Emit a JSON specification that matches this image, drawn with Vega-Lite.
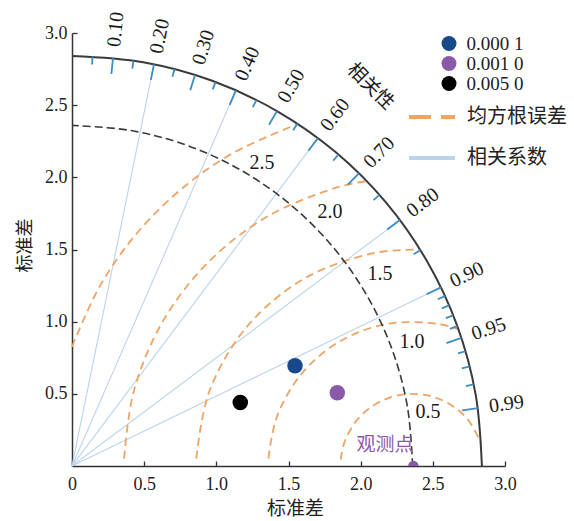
{
  "$schema": "https://vega.github.io/schema/vega-lite/v6.json",
  "width": 433,
  "height": 433,
  "autosize": {"type": "none"},
  "padding": {"left": 72, "top": 33, "right": 69, "bottom": 55},
  "background": "white",
  "config": {
    "view": {"stroke": null},
    "font": "Liberation Serif",
    "axis": {
      "grid": false,
      "domainColor": "#333333",
      "domainWidth": 1.5,
      "tickColor": "#333333",
      "tickWidth": 1.3,
      "tickSize": -5,
      "labelFont": "Liberation Serif",
      "labelFontSize": 18,
      "labelColor": "#222222",
      "labelFlush": false,
      "labelOverlap": false,
      "titleFont": "Noto Sans CJK SC",
      "titleFontWeight": "normal",
      "titleColor": "#222222"
    }
  },
  "datasets": {
    "outer": [
      {"i": 0, "x": 2.84, "y": 0}, {"i": 1, "x": 2.797, "y": 0.493}, {"i": 2, "x": 2.669, "y": 0.971},
      {"i": 3, "x": 2.459, "y": 1.42}, {"i": 4, "x": 2.175, "y": 1.826}, {"i": 5, "x": 1.826, "y": 2.175},
      {"i": 6, "x": 1.42, "y": 2.459}, {"i": 7, "x": 0.971, "y": 2.669}, {"i": 8, "x": 0.493, "y": 2.797},
      {"i": 9, "x": 0, "y": 2.84}
    ],
    "std": [
      {"i": 0, "x": 2.36, "y": 0}, {"i": 1, "x": 2.324, "y": 0.41}, {"i": 2, "x": 2.218, "y": 0.807},
      {"i": 3, "x": 2.044, "y": 1.18}, {"i": 4, "x": 1.808, "y": 1.517}, {"i": 5, "x": 1.517, "y": 1.808},
      {"i": 6, "x": 1.18, "y": 2.044}, {"i": 7, "x": 0.807, "y": 2.218}, {"i": 8, "x": 0.41, "y": 2.324},
      {"i": 9, "x": 0, "y": 2.36}
    ],
    "rms": [
      {"rho": 0.5, "kind": "均方根误差", "i": 0, "x": 1.862, "y": 0.044},
      {"rho": 0.5, "kind": "均方根误差", "i": 1, "x": 1.89, "y": 0.171},
      {"rho": 0.5, "kind": "均方根误差", "i": 2, "x": 1.977, "y": 0.321},
      {"rho": 0.5, "kind": "均方根误差", "i": 3, "x": 2.11, "y": 0.433},
      {"rho": 0.5, "kind": "均方根误差", "i": 4, "x": 2.273, "y": 0.492},
      {"rho": 0.5, "kind": "均方根误差", "i": 5, "x": 2.447, "y": 0.492},
      {"rho": 0.5, "kind": "均方根误差", "i": 6, "x": 2.61, "y": 0.433},
      {"rho": 0.5, "kind": "均方根误差", "i": 7, "x": 2.743, "y": 0.321},
      {"rho": 0.5, "kind": "均方根误差", "i": 8, "x": 2.836, "y": 0.155},
      {"rho": 1.0, "kind": "均方根误差", "i": 0, "x": 1.361, "y": 0.052},
      {"rho": 1.0, "kind": "均方根误差", "i": 1, "x": 1.42, "y": 0.342},
      {"rho": 1.0, "kind": "均方根误差", "i": 2, "x": 1.594, "y": 0.643},
      {"rho": 1.0, "kind": "均方根误差", "i": 3, "x": 1.86, "y": 0.866},
      {"rho": 1.0, "kind": "均方根误差", "i": 4, "x": 2.186, "y": 0.985},
      {"rho": 1.0, "kind": "均方根误差", "i": 5, "x": 2.534, "y": 0.985},
      {"rho": 1.0, "kind": "均方根误差", "i": 6, "x": 2.677, "y": 0.948},
      {"rho": 1.5, "kind": "均方根误差", "i": 0, "x": 0.861, "y": 0.052},
      {"rho": 1.5, "kind": "均方根误差", "i": 1, "x": 0.95, "y": 0.513},
      {"rho": 1.5, "kind": "均方根误差", "i": 2, "x": 1.211, "y": 0.964},
      {"rho": 1.5, "kind": "均方根误差", "i": 3, "x": 1.61, "y": 1.299},
      {"rho": 1.5, "kind": "均方根误差", "i": 4, "x": 2.1, "y": 1.477},
      {"rho": 1.5, "kind": "均方根误差", "i": 5, "x": 2.412, "y": 1.499},
      {"rho": 2.0, "kind": "均方根误差", "i": 0, "x": 0.361, "y": 0.052},
      {"rho": 2.0, "kind": "均方根误差", "i": 1, "x": 0.428, "y": 0.518},
      {"rho": 2.0, "kind": "均方根误差", "i": 2, "x": 0.628, "y": 1.0},
      {"rho": 2.0, "kind": "均方根误差", "i": 3, "x": 0.946, "y": 1.414},
      {"rho": 2.0, "kind": "均方根误差", "i": 4, "x": 1.36, "y": 1.732},
      {"rho": 2.0, "kind": "均方根误差", "i": 5, "x": 1.842, "y": 1.932},
      {"rho": 2.0, "kind": "均方根误差", "i": 6, "x": 2.04, "y": 1.974},
      {"rho": 2.5, "kind": "均方根误差", "i": 0, "x": 0.0, "y": 0.826},
      {"rho": 2.5, "kind": "均方根误差", "i": 1, "x": 0.195, "y": 1.25},
      {"rho": 2.5, "kind": "均方根误差", "i": 2, "x": 0.445, "y": 1.607},
      {"rho": 2.5, "kind": "均方根误差", "i": 3, "x": 0.753, "y": 1.915},
      {"rho": 2.5, "kind": "均方根误差", "i": 4, "x": 1.11, "y": 2.165},
      {"rho": 2.5, "kind": "均方根误差", "i": 5, "x": 1.567, "y": 2.371}
    ],
    "corr": [
      {"c": 0.2, "kind": "相关系数", "x": 0, "y": 0, "x2": 0.568, "y2": 2.783},
      {"c": 0.4, "kind": "相关系数", "x": 0, "y": 0, "x2": 1.136, "y2": 2.603},
      {"c": 0.6, "kind": "相关系数", "x": 0, "y": 0, "x2": 1.704, "y2": 2.272},
      {"c": 0.8, "kind": "相关系数", "x": 0, "y": 0, "x2": 2.272, "y2": 1.704},
      {"c": 0.9, "kind": "相关系数", "x": 0, "y": 0, "x2": 2.556, "y2": 1.238}
    ],
    "ticks": [
      {"c": 0.05, "x": 0.142, "y": 2.836, "x2": 0.139, "y2": 2.782},
      {"c": 0.10, "x": 0.284, "y": 2.826, "x2": 0.273, "y2": 2.716},
      {"c": 0.15, "x": 0.426, "y": 2.808, "x2": 0.418, "y2": 2.753},
      {"c": 0.20, "x": 0.568, "y": 2.783, "x2": 0.546, "y2": 2.675},
      {"c": 0.25, "x": 0.71, "y": 2.75, "x2": 0.696, "y2": 2.697},
      {"c": 0.30, "x": 0.852, "y": 2.709, "x2": 0.819, "y2": 2.604},
      {"c": 0.35, "x": 0.994, "y": 2.66, "x2": 0.975, "y2": 2.609},
      {"c": 0.40, "x": 1.136, "y": 2.603, "x2": 1.092, "y2": 2.502},
      {"c": 0.45, "x": 1.278, "y": 2.536, "x2": 1.253, "y2": 2.487},
      {"c": 0.50, "x": 1.42, "y": 2.459, "x2": 1.365, "y2": 2.364},
      {"c": 0.55, "x": 1.562, "y": 2.372, "x2": 1.532, "y2": 2.326},
      {"c": 0.60, "x": 1.704, "y": 2.272, "x2": 1.638, "y2": 2.184},
      {"c": 0.65, "x": 1.846, "y": 2.158, "x2": 1.81, "y2": 2.116},
      {"c": 0.70, "x": 1.988, "y": 2.028, "x2": 1.911, "y2": 1.95},
      {"c": 0.75, "x": 2.13, "y": 1.878, "x2": 2.089, "y2": 1.842},
      {"c": 0.80, "x": 2.272, "y": 1.704, "x2": 2.184, "y2": 1.638},
      {"c": 0.85, "x": 2.414, "y": 1.496, "x2": 2.367, "y2": 1.467},
      {"c": 0.90, "x": 2.556, "y": 1.238, "x2": 2.457, "y2": 1.19},
      {"c": 0.91, "x": 2.584, "y": 1.177, "x2": 2.534, "y2": 1.155},
      {"c": 0.92, "x": 2.613, "y": 1.113, "x2": 2.562, "y2": 1.092},
      {"c": 0.93, "x": 2.641, "y": 1.044, "x2": 2.59, "y2": 1.024},
      {"c": 0.94, "x": 2.67, "y": 0.969, "x2": 2.618, "y2": 0.95},
      {"c": 0.95, "x": 2.698, "y": 0.887, "x2": 2.594, "y2": 0.852},
      {"c": 0.96, "x": 2.726, "y": 0.795, "x2": 2.674, "y2": 0.78},
      {"c": 0.97, "x": 2.755, "y": 0.69, "x2": 2.701, "y2": 0.677},
      {"c": 0.98, "x": 2.783, "y": 0.565, "x2": 2.729, "y2": 0.554},
      {"c": 0.99, "x": 2.812, "y": 0.401, "x2": 2.703, "y2": 0.385}
    ],
    "ticklabels": [
      {"t": "0.10", "x": 0.304, "y": 3.025, "deg": 84.26},
      {"t": "0.20", "x": 0.608, "y": 2.979, "deg": 78.46},
      {"t": "0.30", "x": 0.912, "y": 2.9, "deg": 72.54},
      {"t": "0.40", "x": 1.216, "y": 2.786, "deg": 66.42},
      {"t": "0.50", "x": 1.52, "y": 2.633, "deg": 60},
      {"t": "0.60", "x": 1.824, "y": 2.432, "deg": 53.13},
      {"t": "0.70", "x": 2.128, "y": 2.171, "deg": 45.57},
      {"t": "0.80", "x": 2.432, "y": 1.824, "deg": 36.87},
      {"t": "0.90", "x": 2.736, "y": 1.325, "deg": 25.84},
      {"t": "0.95", "x": 2.888, "y": 0.949, "deg": 18.19},
      {"t": "0.99", "x": 3.01, "y": 0.429, "deg": 8.11}
    ],
    "rmslabels": [
      {"t": "2.5", "x": 1.317, "y": 2.1},
      {"t": "2.0", "x": 1.788, "y": 1.76},
      {"t": "1.5", "x": 2.134, "y": 1.33},
      {"t": "1.0", "x": 2.356, "y": 0.859},
      {"t": "0.5", "x": 2.467, "y": 0.374}
    ],
    "models": [
      {"label": "0.000 1", "x": 1.545, "y": 0.694},
      {"label": "0.001 0", "x": 1.838, "y": 0.508},
      {"label": "0.005 0", "x": 1.166, "y": 0.44}
    ],
    "obs": [
      {"name": "观测点", "x": 2.365, "y": 0, "lx": 2.169, "ly": 0.145}
    ],
    "corrtitle": [
      {"t": "相关性", "x": 2.07, "y": 2.63}
    ]
  },
  "encoding": {
    "x": {
      "field": "x", "type": "quantitative",
      "scale": {"domain": [0, 3], "nice": false, "zero": true},
      "axis": {
        "values": [0, 0.5, 1, 1.5, 2, 2.5, 3],
        "labelExpr": "datum.value == 0 ? '0' : format(datum.value, '.1f')",
        "labelPadding": 14,
        "title": "标准差",
        "titleFontSize": 19,
        "titleX": 223,
        "titleY": 33,
        "titleAlign": "center",
        "titleBaseline": "top"
      }
    },
    "y": {
      "field": "y", "type": "quantitative",
      "scale": {"domain": [0, 3], "nice": false, "zero": true},
      "axis": {
        "values": [0.5, 1, 1.5, 2, 2.5, 3],
        "format": ".1f",
        "labelPadding": 10,
        "title": "标准差",
        "titleFontSize": 18,
        "titleX": -47,
        "titleY": 212,
        "titleAlign": "center",
        "titleBaseline": "middle",
        "titleAngle": -90
      }
    }
  },
  "layer": [
    {
      "data": {"name": "corr"},
      "mark": {"type": "rule", "strokeWidth": 1.1, "strokeDash": [1, 0]},
      "encoding": {
        "x2": {"field": "x2"},
        "y2": {"field": "y2"},
        "stroke": {
          "field": "kind", "type": "nominal",
          "scale": {"domain": ["均方根误差", "相关系数"], "range": ["#eea466", "#bcd3ea"]},
          "legend": {
            "orient": "none", "legendX": 335, "legendY": 59, "title": null,
            "symbolType": "stroke", "symbolSize": 2116, "symbolStrokeWidth": 4,
            "labelFont": "Noto Sans CJK SC", "labelFontSize": 20, "labelColor": "#222222",
            "labelOffset": 10, "rowPadding": 6, "padding": 0,
            "encode": {"symbols": {"update": {
              "strokeDash": {"signal": "datum.value === '均方根误差' ? [22, 10] : [1, 0]"},
              "stroke": {"signal": "datum.value === '均方根误差' ? '#dca37c' : '#c2cad8'"}
            }}}
          }
        }
      }
    },
    {
      "data": {"name": "rms"},
      "mark": {"type": "line", "strokeWidth": 1.8, "interpolate": "catmull-rom", "strokeDash": [8, 5]},
      "encoding": {
        "order": {"field": "i", "type": "quantitative"},
        "detail": {"field": "rho", "type": "nominal"},
        "stroke": {
          "field": "kind", "type": "nominal",
          "legend": {
            "orient": "none", "legendX": 335, "legendY": 59, "title": null,
            "symbolType": "stroke", "symbolSize": 2116, "symbolStrokeWidth": 4,
            "labelFont": "Noto Sans CJK SC", "labelFontSize": 20, "labelColor": "#222222",
            "labelOffset": 10, "rowPadding": 6, "padding": 0,
            "encode": {"symbols": {"update": {
              "strokeDash": {"signal": "datum.value === '均方根误差' ? [22, 10] : [1, 0]"},
              "stroke": {"signal": "datum.value === '均方根误差' ? '#dca37c' : '#c2cad8'"}
            }}}
          }
        }
      }
    },
    {
      "data": {"name": "std"},
      "mark": {"type": "line", "stroke": "#3a3a3a", "strokeWidth": 1.6, "strokeDash": [8, 4], "interpolate": "catmull-rom"},
      "encoding": {"order": {"field": "i", "type": "quantitative"}}
    },
    {
      "data": {"name": "outer"},
      "mark": {"type": "line", "stroke": "#3a3a3a", "strokeWidth": 2, "interpolate": "catmull-rom"},
      "encoding": {"order": {"field": "i", "type": "quantitative"}}
    },
    {
      "data": {"name": "ticks"},
      "mark": {"type": "rule", "stroke": "#3a8dc5", "strokeWidth": 1.8},
      "encoding": {"x2": {"field": "x2"}, "y2": {"field": "y2"}}
    },
    {
      "data": {"name": "ticklabels"},
      "mark": {"type": "text", "font": "Liberation Serif", "fontSize": 20, "color": "#1a1a1a", "align": "center", "baseline": "middle"},
      "encoding": {
        "text": {"field": "t"},
        "angle": {"field": "deg", "type": "quantitative", "scale": {"domain": [0, 90], "range": [360, 270]}, "legend": null}
      }
    },
    {
      "data": {"name": "rmslabels"},
      "mark": {"type": "text", "font": "Liberation Serif", "fontSize": 20, "color": "#1a1a1a", "align": "center", "baseline": "middle"},
      "encoding": {"text": {"field": "t"}}
    },
    {
      "data": {"name": "corrtitle"},
      "mark": {"type": "text", "font": "Noto Sans CJK SC", "fontSize": 19, "color": "#1a1a1a", "align": "center", "baseline": "middle", "angle": 45},
      "encoding": {"text": {"field": "t"}}
    },
    {
      "data": {"name": "obs"},
      "mark": {"type": "point", "filled": true, "size": 110, "color": "#8a5aa8", "opacity": 1, "clip": true},
      "encoding": {}
    },
    {
      "data": {"name": "obs"},
      "mark": {"type": "text", "font": "Noto Sans CJK SC", "fontSize": 19, "color": "#8a5aa8", "align": "center", "baseline": "middle"},
      "encoding": {"x": {"field": "lx", "type": "quantitative"}, "y": {"field": "ly", "type": "quantitative"}, "text": {"field": "name"}}
    },
    {
      "data": {"name": "models"},
      "mark": {"type": "point", "filled": true, "size": 240, "opacity": 1, "shape": "circle"},
      "encoding": {
        "color": {
          "field": "label", "type": "nominal",
          "scale": {"domain": ["0.000 1", "0.001 0", "0.005 0"], "range": ["#184a8b", "#8a5aa8", "#000000"]},
          "legend": {
            "orient": "none", "legendX": 367.5, "legendY": 1, "title": null,
            "symbolType": "circle", "symbolSize": 225, "symbolStrokeWidth": 0,
            "labelFont": "Liberation Serif", "labelFontSize": 19, "labelColor": "#222222",
            "labelOffset": 8, "rowPadding": -1, "padding": 0
          }
        }
      }
    }
  ]
}
